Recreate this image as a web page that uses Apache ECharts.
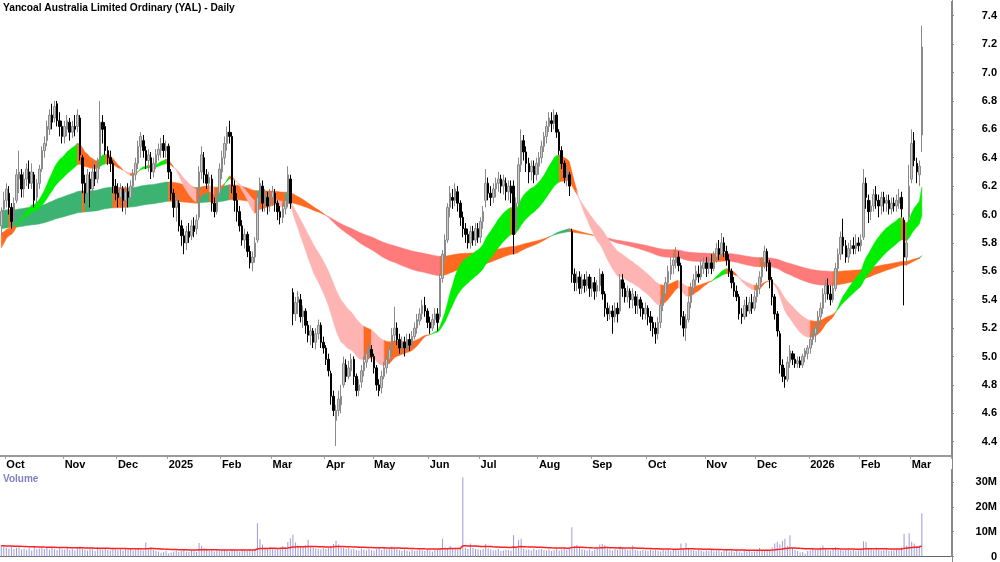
<!DOCTYPE html>
<html>
<head>
<meta charset="utf-8">
<script src="https://cdn.jsdelivr.net/npm/echarts@6/dist/echarts.min.js"></script>
<style>
  html, body { margin: 0; padding: 0; background: #fff; }
  #chart { width: 1000px; height: 562px; }
</style>
</head>
<body>
<div id="chart"></div>
<script>
// daily candles, [open, close, low, high]
const sep24 = [[5.92,6.02,5.85,6.05],[6.04,6.10,5.98,6.16]];
const oct24 = [[6.10,6.18,6.05,6.22],[6.15,6.05,6.00,6.20],[6.05,5.95,5.90,6.08],[5.97,6.08,5.93,6.12],[6.10,6.28,6.08,6.32],[6.25,6.30,6.15,6.45],[6.28,6.18,6.12,6.32],[6.18,6.25,6.12,6.30],[6.25,6.32,6.20,6.36],[6.30,6.22,6.18,6.38],[6.22,6.30,6.18,6.36],[6.28,6.10,6.05,6.30],[6.12,6.22,6.08,6.25],[6.22,6.32,6.18,6.35],[6.32,6.45,6.30,6.48],[6.45,6.50,6.40,6.55],[6.52,6.62,6.48,6.66],[6.60,6.70,6.56,6.74],[6.70,6.65,6.60,6.78],[6.68,6.76,6.65,6.80],[6.78,6.66,6.62,6.80],[6.66,6.62,6.55,6.72],[6.62,6.55,6.50,6.66]];
const nov24 = [[6.55,6.62,6.50,6.66],[6.60,6.66,6.55,6.70],[6.65,6.58,6.52,6.68],[6.58,6.62,6.54,6.66],[6.62,6.60,6.55,6.70],[6.62,6.70,6.58,6.74],[6.68,6.42,6.38,6.70],[6.40,6.22,6.15,6.42],[6.22,6.15,6.08,6.28],[6.15,6.28,6.10,6.32],[6.25,6.18,6.05,6.30],[6.18,6.30,6.15,6.38],[6.30,6.25,6.20,6.35],[6.25,6.33,6.22,6.40],[6.35,6.65,6.32,6.80],[6.65,6.60,6.50,6.70],[6.62,6.45,6.42,6.65],[6.45,6.40,6.35,6.48],[6.40,6.36,6.30,6.45],[6.36,6.20,6.15,6.38],[6.20,6.15,6.10,6.25]];
const dec24 = [[6.15,6.12,6.05,6.22],[6.12,6.18,6.05,6.22],[6.18,6.10,6.02,6.20],[6.10,6.16,6.00,6.20],[6.16,6.12,6.05,6.22],[6.12,6.20,6.08,6.24],[6.20,6.28,6.15,6.32],[6.28,6.36,6.24,6.40],[6.36,6.48,6.32,6.52],[6.48,6.55,6.40,6.58],[6.52,6.45,6.40,6.56],[6.45,6.38,6.32,6.48],[6.38,6.42,6.30,6.46],[6.40,6.30,6.25,6.44],[6.30,6.36,6.26,6.40],[6.36,6.42,6.32,6.46],[6.42,6.46,6.38,6.50],[6.45,6.50,6.40,6.54],[6.50,6.45,6.40,6.56],[6.45,6.48,6.40,6.52]];
const jan25 = [[6.48,6.30,6.25,6.50],[6.30,6.15,6.10,6.32],[6.15,6.05,5.98,6.18],[6.05,6.10,5.95,6.14],[6.08,5.92,5.88,6.10],[5.92,5.85,5.78,5.96],[5.85,5.80,5.72,5.90],[5.80,5.88,5.75,5.92],[5.88,5.84,5.80,5.94],[5.85,5.92,5.82,5.96],[5.92,5.88,5.84,5.98],[5.90,5.96,5.86,6.00],[5.98,6.30,5.96,6.34],[6.30,6.42,6.25,6.48],[6.40,6.28,6.22,6.44],[6.28,6.22,6.18,6.32],[6.22,6.26,6.18,6.30],[6.25,6.08,6.02,6.28],[6.08,6.02,5.98,6.12],[6.02,6.15,6.00,6.18],[6.15,6.32,6.12,6.36]];
const feb25 = [[6.30,6.40,6.25,6.45],[6.40,6.50,6.35,6.55],[6.50,6.58,6.45,6.62],[6.58,6.55,6.50,6.66],[6.55,6.20,6.15,6.58],[6.20,6.10,6.02,6.24],[6.10,6.02,5.95,6.15],[6.02,5.92,5.88,6.06],[5.92,5.82,5.78,5.96],[5.82,5.86,5.76,5.90],[5.86,5.74,5.70,5.88],[5.74,5.66,5.62,5.78],[5.66,5.70,5.60,5.74],[5.70,5.80,5.66,5.84],[5.82,6.12,5.80,6.16],[6.12,6.22,6.06,6.26],[6.20,6.08,6.02,6.24],[6.08,6.14,6.02,6.18],[6.12,6.06,6.00,6.16],[6.06,6.12,6.02,6.18]];
const mar25 = [[6.12,6.16,6.06,6.20],[6.15,6.08,6.02,6.18],[6.08,6.02,5.96,6.10],[6.02,5.98,5.93,6.06],[5.98,6.04,5.94,6.08],[6.04,6.10,6.00,6.14],[6.08,6.28,6.05,6.34],[6.25,6.08,6.04,6.28],[5.45,5.30,5.22,5.48],[5.30,5.38,5.25,5.42],[5.38,5.42,5.30,5.46],[5.40,5.28,5.24,5.44],[5.28,5.32,5.20,5.36],[5.32,5.22,5.16,5.34],[5.22,5.15,5.10,5.25],[5.15,5.18,5.08,5.22],[5.18,5.10,5.06,5.20],[5.10,5.16,5.05,5.20],[5.16,5.22,5.12,5.26],[5.22,5.10,5.06,5.24],[5.10,5.06,5.02,5.14]];
const apr25 = [[5.06,4.98,4.94,5.08],[4.98,4.90,4.86,5.02],[4.88,4.72,4.66,4.90],[4.72,4.62,4.58,4.76],[4.55,4.62,4.37,4.66],[4.62,4.70,4.58,4.76],[4.66,4.72,4.60,4.80],[4.80,4.95,4.78,5.00],[4.94,4.86,4.82,4.98],[4.86,4.92,4.84,4.97],[4.90,4.98,4.86,5.02],[4.98,4.86,4.80,5.00],[4.86,4.76,4.72,4.88],[4.76,4.80,4.72,4.84],[4.82,4.90,4.78,4.94],[4.90,4.96,4.86,5.00],[4.96,5.02,4.92,5.06],[5.02,5.06,4.98,5.10],[5.05,5.00,4.96,5.08]];
const may25 = [[5.00,4.92,4.88,5.02],[4.92,4.80,4.76,4.94],[4.80,4.76,4.72,4.84],[4.78,4.86,4.74,4.90],[4.86,4.92,4.84,4.96],[4.92,4.98,4.88,5.02],[4.98,5.05,4.95,5.08],[5.05,5.15,5.02,5.20],[5.15,5.20,5.10,5.35],[5.20,5.12,5.08,5.24],[5.12,5.06,5.02,5.16],[5.06,5.10,5.02,5.14],[5.10,5.06,5.00,5.14],[5.06,5.12,5.04,5.16],[5.12,5.08,5.04,5.16],[5.08,5.14,5.06,5.18],[5.14,5.20,5.12,5.24],[5.20,5.26,5.16,5.30],[5.25,5.30,5.22,5.34],[5.30,5.36,5.26,5.40],[5.36,5.32,5.28,5.42],[5.32,5.24,5.20,5.34]];
const jun25 = [[5.24,5.20,5.16,5.28],[5.20,5.26,5.18,5.30],[5.26,5.30,5.22,5.34],[5.30,5.24,5.18,5.34],[5.28,5.55,5.26,5.58],[5.55,5.72,5.52,5.75],[5.70,5.82,5.66,5.86],[5.82,6.05,5.80,6.08],[6.05,6.15,5.98,6.20],[6.12,6.10,6.04,6.18],[6.10,6.18,6.06,6.22],[6.16,6.08,6.02,6.20],[6.08,5.98,5.92,6.10],[5.98,5.90,5.84,6.02],[5.90,5.86,5.80,5.94],[5.86,5.80,5.76,5.90],[5.80,5.88,5.76,5.92],[5.88,5.82,5.78,5.92],[5.82,5.90,5.78,5.94],[5.90,5.84,5.80,5.94]];
const jul25 = [[5.84,5.95,5.80,5.98],[5.95,6.02,5.90,6.06],[6.10,6.22,6.05,6.32],[6.22,6.15,6.10,6.26],[6.15,6.12,6.06,6.20],[6.12,6.18,6.08,6.22],[6.18,6.22,6.12,6.26],[6.22,6.25,6.16,6.30],[6.25,6.20,6.15,6.28],[6.20,6.24,6.14,6.28],[6.22,6.16,6.10,6.26],[6.16,6.20,6.10,6.24],[6.20,6.15,6.08,6.24],[6.20,5.86,5.72,6.24],[5.90,6.08,5.86,6.12],[6.08,6.35,6.05,6.40],[6.35,6.52,6.30,6.60],[6.52,6.44,6.38,6.56],[6.44,6.36,6.30,6.48],[6.36,6.30,6.22,6.40],[6.30,6.34,6.24,6.38],[6.34,6.28,6.22,6.38],[6.28,6.36,6.24,6.40]];
const aug25 = [[6.34,6.40,6.28,6.44],[6.40,6.48,6.36,6.52],[6.48,6.55,6.44,6.58],[6.55,6.62,6.50,6.66],[6.62,6.68,6.58,6.72],[6.66,6.64,6.58,6.72],[6.64,6.70,6.60,6.74],[6.70,6.58,6.54,6.72],[6.58,6.45,6.42,6.60],[6.45,6.36,6.32,6.48],[6.36,6.26,6.22,6.38],[6.26,6.30,6.20,6.34],[6.28,6.20,6.13,6.30],[5.88,5.58,5.52,5.90],[5.58,5.52,5.46,5.62],[5.52,5.56,5.46,5.60],[5.56,5.48,5.44,5.60],[5.48,5.54,5.44,5.58],[5.54,5.50,5.45,5.58],[5.50,5.56,5.46,5.60],[5.56,5.48,5.42,5.58]];
const sep25 = [[5.48,5.52,5.42,5.56],[5.52,5.46,5.40,5.56],[5.46,5.50,5.42,5.54],[5.50,5.58,5.46,5.62],[5.58,5.44,5.40,5.60],[5.44,5.34,5.28,5.46],[5.34,5.30,5.25,5.38],[5.30,5.32,5.26,5.36],[5.32,5.28,5.16,5.36],[5.28,5.34,5.24,5.38],[5.34,5.30,5.24,5.38],[5.32,5.54,5.30,5.58],[5.54,5.48,5.42,5.58],[5.48,5.42,5.38,5.52],[5.42,5.46,5.38,5.50],[5.46,5.40,5.34,5.48],[5.40,5.44,5.34,5.48],[5.42,5.36,5.30,5.46],[5.36,5.40,5.30,5.44],[5.40,5.34,5.28,5.42],[5.34,5.30,5.26,5.38],[5.30,5.34,5.26,5.38]];
const oct25 = [[5.34,5.28,5.22,5.36],[5.28,5.24,5.18,5.32],[5.24,5.20,5.14,5.28],[5.20,5.16,5.09,5.24],[5.16,5.24,5.12,5.28],[5.24,5.36,5.20,5.40],[5.36,5.44,5.32,5.48],[5.44,5.52,5.40,5.56],[5.52,5.60,5.48,5.64],[5.58,5.64,5.54,5.70],[5.64,5.68,5.58,5.72],[5.66,5.70,5.62,5.77],[5.70,5.64,5.60,5.74],[5.64,5.28,5.22,5.66],[5.28,5.20,5.14,5.32],[5.20,5.26,5.11,5.30],[5.26,5.38,5.24,5.42],[5.38,5.48,5.34,5.52],[5.48,5.54,5.44,5.58],[5.54,5.60,5.50,5.64],[5.58,5.56,5.52,5.64],[5.56,5.64,5.54,5.68],[5.62,5.66,5.58,5.70]];
const nov25 = [[5.66,5.62,5.56,5.70],[5.62,5.66,5.58,5.70],[5.66,5.62,5.58,5.72],[5.62,5.70,5.60,5.74],[5.70,5.76,5.66,5.80],[5.76,5.72,5.68,5.82],[5.72,5.80,5.70,5.87],[5.80,5.74,5.70,5.84],[5.74,5.68,5.64,5.78],[5.68,5.60,5.56,5.72],[5.60,5.52,5.48,5.62],[5.52,5.46,5.42,5.56],[5.46,5.42,5.39,5.50],[5.42,5.30,5.26,5.44],[5.30,5.28,5.23,5.34],[5.28,5.36,5.26,5.40],[5.36,5.32,5.28,5.42],[5.32,5.38,5.30,5.42],[5.38,5.34,5.30,5.44],[5.34,5.42,5.32,5.46]];
const dec25 = [[5.42,5.48,5.38,5.52],[5.48,5.56,5.44,5.60],[5.56,5.66,5.52,5.70],[5.66,5.74,5.62,5.78],[5.74,5.66,5.60,5.76],[5.66,5.54,5.48,5.68],[5.54,5.42,5.36,5.56],[5.42,5.30,5.26,5.44],[5.30,5.18,5.14,5.32],[5.16,4.94,4.88,5.18],[4.94,4.86,4.82,4.98],[4.86,4.84,4.78,4.92],[4.84,4.96,4.82,5.00],[4.96,5.04,4.92,5.08],[5.02,4.98,4.94,5.04],[4.98,4.95,4.92,5.02],[4.95,4.97,4.92,5.00],[4.97,4.94,4.92,5.00],[4.94,5.00,4.92,5.02],[5.00,5.04,4.96,5.06],[5.02,5.06,4.98,5.08]];
const jan26 = [[5.06,5.12,5.02,5.16],[5.12,5.18,5.08,5.20],[5.16,5.20,5.10,5.24],[5.20,5.28,5.16,5.32],[5.28,5.34,5.22,5.38],[5.34,5.44,5.30,5.48],[5.44,5.50,5.38,5.54],[5.50,5.44,5.40,5.55],[5.44,5.40,5.36,5.50],[5.40,5.48,5.38,5.52],[5.48,5.62,5.46,5.66],[5.62,5.72,5.58,5.76],[5.72,5.84,5.68,5.88],[5.84,5.78,5.72,5.97],[5.78,5.70,5.66,5.82],[5.70,5.76,5.66,5.80],[5.76,5.78,5.72,5.82],[5.78,5.76,5.72,5.84],[5.76,5.80,5.72,5.86],[5.80,5.78,5.74,5.84]];
const feb26 = [[5.78,5.82,5.74,5.86],[5.84,6.22,5.82,6.32],[6.22,6.12,6.04,6.26],[6.10,6.02,5.94,6.14],[6.02,6.06,5.96,6.10],[6.06,6.14,6.02,6.18],[6.14,6.10,6.04,6.20],[6.10,6.06,5.98,6.14],[6.06,6.12,6.00,6.16],[6.12,6.08,6.02,6.16],[6.08,6.10,6.02,6.14],[6.10,6.04,6.00,6.14],[6.04,6.08,6.00,6.12],[6.08,6.06,6.02,6.12],[6.06,6.10,6.02,6.14],[6.08,6.12,6.04,6.18],[6.12,6.04,5.98,6.16],[5.96,5.70,5.36,5.98],[5.70,5.80,5.64,5.84],[5.98,6.20,5.95,6.35]];
const mar26 = [[6.25,6.50,6.22,6.60],[6.52,6.38,6.34,6.58],[6.36,6.30,6.22,6.40],[6.28,6.34,6.20,6.38],[6.56,7.18,6.44,7.33]];

// daily volume, millions
const volSep24 = [4.5,4.0];
const volOct24 = [3.6,3.2,4.0,3.0,3.5,4.2,2.8,3.1,2.6,3.3,2.4,3.8,2.9,3.2,3.6,3.0,3.4,2.7,3.9,3.1,2.6,3.3,2.9];
const volNov24 = [2.8,3.4,2.6,3.0,2.5,3.6,4.0,3.1,2.7,2.4,3.2,2.9,2.2,3.8,3.0,2.8,3.3,2.6,2.4,3.5,2.9];
const volDec24 = [2.6,2.9,2.4,3.1,2.7,3.0,2.5,2.8,3.2,2.6,2.4,5.6,3.3,3.8,2.7,2.2,2.0,1.5,1.8,2.2];
const volJan25 = [1.2,1.6,2.0,2.4,1.8,2.2,2.6,2.0,1.9,2.3,2.1,1.8,5.4,4.2,3.0,2.6,2.2,2.5,2.0,2.4,2.1];
const volFeb25 = [2.2,2.8,2.4,2.0,3.0,2.6,2.3,2.0,2.8,2.5,2.2,2.7,2.4,3.2,13.4,7.0,4.8,3.6,3.2,3.8];
const volMar25 = [3.4,3.2,3.0,3.6,4.2,3.8,5.8,7.4,8.8,5.6,4.4,4.0,3.8,4.6,6.8,4.2,3.6,3.2,3.0,2.8,3.4];
const volApr25 = [3.0,3.4,4.2,5.0,6.4,4.8,4.2,3.6,3.0,3.4,2.8,3.0,2.6,2.4,3.2,2.8,2.5,3.0,2.6];
const volMay25 = [2.4,3.0,3.4,2.6,3.6,2.8,3.2,4.0,3.4,3.0,2.6,2.2,2.8,2.4,2.0,2.6,2.2,2.4,2.8,2.5,2.2,2.6];
const volJun25 = [2.4,2.0,2.6,2.8,3.4,7.2,3.6,3.0,4.2,3.4,3.0,2.8,3.2,32.0,3.6,3.0,5.2,3.4,3.0,2.8];
const volJul25 = [2.6,3.0,5.0,3.2,2.8,2.4,2.6,3.0,2.2,2.4,2.8,2.6,2.4,8.6,3.4,6.6,7.2,3.0,2.6,2.8,2.4,3.2,2.6];
const volAug25 = [2.8,3.0,2.6,2.4,2.8,2.2,2.6,3.0,2.4,2.8,3.2,2.6,3.0,11.8,4.2,4.6,3.4,3.0,2.6,2.4,2.8];
const volSep25 = [2.2,2.6,3.0,4.8,5.0,4.6,3.2,2.8,2.4,3.0,2.6,4.0,3.4,3.0,2.6,2.8,4.4,2.6,2.4,2.2,2.6,2.4];
const volOct25 = [2.2,2.8,2.4,2.6,2.2,2.0,2.6,2.4,2.8,2.2,2.6,3.0,2.4,5.2,3.0,5.4,3.2,2.6,2.4,2.2,2.6,2.4,2.0];
const volNov25 = [2.4,2.2,2.6,2.0,2.2,2.4,1.8,2.2,2.6,2.0,2.2,1.8,2.4,2.0,1.6,2.2,2.0,2.4,1.8,2.0];
const volDec25 = [2.2,3.4,2.6,2.4,2.8,2.6,3.6,5.2,6.0,4.8,6.4,7.2,4.2,8.6,3.4,2.6,2.2,1.6,1.8,1.2,2.2];
const volJan26 = [2.4,3.0,2.6,2.8,3.6,4.4,3.2,2.6,2.4,3.0,3.8,2.8,2.6,2.4,2.6,2.8,2.4,2.6,2.2,2.4];
const volFeb26 = [2.6,6.2,5.8,3.4,3.0,2.6,3.6,2.8,2.4,2.6,3.0,2.2,2.4,2.6,3.0,3.2,3.6,9.2,4.4,9.4];
const volMar26 = [6.0,5.2,4.2,4.4,17.4];

const firstDay = '2024-09-27';
const holidays = ['2024-12-25','2024-12-26','2025-01-01','2025-01-27','2025-04-18','2025-04-21',
  '2025-04-25','2025-06-09','2025-12-25','2025-12-26','2026-01-01','2026-01-26'];
const monthNames = ['Jan','Feb','Mar','Apr','May','Jun','Jul','Aug','Sep','Oct','Nov','Dec'];
const emptySlots = 11;

const priceTicks = [4.4,4.6,4.8,5.0,5.2,5.4,5.6,5.8,6.0,6.2,6.4,6.6,6.8,7.0,7.2,7.4];
const volumeTicks = [0,10,20,30];

// ribbon settings: [fast, slow] EMA periods and starting values
const shortPeriods = [21, 40];
const shortSeed = [5.74, 5.86];
const longPeriods = [150, 250];
const longSeed = [6.03, 5.90];
const volPeriod = 50;
const volSeed = 4.3;

const candles = [].concat(sep24, oct24, nov24, dec24, jan25, feb25, mar25, apr25, may25, jun25,
  jul25, aug25, sep25, oct25, nov25, dec25, jan26, feb26, mar26);
const volumes = [].concat(volSep24, volOct24, volNov24, volDec24, volJan25, volFeb25, volMar25,
  volApr25, volMay25, volJun25, volJul25, volAug25, volSep25, volOct25, volNov25, volDec25,
  volJan26, volFeb26, volMar26);

// trading days
const dates = [];
let d = new Date(firstDay + 'T00:00:00Z');
while (dates.length < candles.length) {
  const key = d.toISOString().slice(0, 10);
  const wd = d.getUTCDay();
  if (wd !== 0 && wd !== 6 && holidays.indexOf(key) < 0) dates.push(key);
  d = new Date(d.getTime() + 86400000);
}
const cats = dates.concat(new Array(emptySlots).fill(''));
const monthLabel = cats.map((k, i) => {
  if (!k || i === 0) return '';
  if (k.slice(5, 7) === cats[i - 1].slice(5, 7)) return '';
  const m = +k.slice(5, 7);
  return m === 1 ? k.slice(0, 4) : monthNames[m - 1];
});
const isMonthStart = (i) => monthLabel[i] !== '';

function ema(vals, period, seed) {
  const k = 2 / (period + 1);
  let prev = seed;
  return vals.map(v => (prev = prev + k * (v - prev)));
}

const closes = candles.map(c => c[1]);
const shortFast = ema(closes, shortPeriods[0], shortSeed[0]);
const shortSlow = ema(closes, shortPeriods[1], shortSeed[1]);
const longFast = ema(closes, longPeriods[0], longSeed[0]);
const longSlow = ema(closes, longPeriods[1], longSeed[1]);
const volAvg = ema(volumes, volPeriod, volSeed);

// colour state of each day: fast above slow and rising = up, below and falling = down
function states(fast, slow, seed) {
  return fast.map((f, i) => {
    const prev = i ? fast[i - 1] : seed;
    const rising = f >= prev;
    if (f > slow[i]) return rising ? 'up' : 'mix';
    return rising ? 'mix' : 'down';
  });
}

// group consecutive segments of one colour: [firstPoint, lastPoint, state]
function runs(st) {
  const out = [];
  let a = 1;
  for (let s = 2; s <= st.length; s++) {
    if (s === st.length || st[s] !== st[a]) { out.push([a - 1, s - 1, st[a]]); a = s; }
  }
  return out;
}

function ribbon(fast, slow, colors, seed) {
  const parts = runs(states(fast, slow, seed));
  return {
    type: 'custom',
    xAxisIndex: 0, yAxisIndex: 0,
    silent: true,
    clip: true,
    z: 1,
    data: parts.map(p => [p[0], fast[p[0]], p[1]]),
    encode: { x: 0, y: 1 },
    renderItem: function (params, api) {
      const p = parts[params.dataIndex];
      const pts = [];
      for (let k = p[0]; k <= p[1]; k++) pts.push(api.coord([k, fast[k]]));
      for (let k = p[1]; k >= p[0]; k--) pts.push(api.coord([k, slow[k]]));
      const c = colors[p[2]];
      return { type: 'polygon', shape: { points: pts }, style: { fill: c, stroke: c, lineWidth: 0.5 } };
    }
  };
}

const font = 'Liberation Sans, Arial, sans-serif';
const chart = echarts.init(document.getElementById('chart'));

chart.setOption({
  animation: false,
  backgroundColor: '#fff',
  title: [
    { text: 'Yancoal Australia Limited Ordinary (YAL) - Daily', left: 3, top: 3, padding: 0,
      textStyle: { fontSize: 10.2, fontWeight: 'bold', color: '#000', fontFamily: font } },
    { text: 'Volume', left: 3, top: 474, padding: 0,
      textStyle: { fontSize: 10, fontWeight: 'bold', color: '#8080c4', fontFamily: font } }
  ],
  grid: [
    { left: 0, right: 48, top: 1.5, height: 454.4 },
    { left: 0, right: 48, top: 469.5, height: 88.8 }
  ],
  xAxis: [
    { type: 'category', gridIndex: 0, data: cats, boundaryGap: true,
      axisLine: { show: true, lineStyle: { color: '#9a9a9a', width: 2 } },
      axisTick: { show: true, interval: isMonthStart, length: 3, lineStyle: { color: '#9a9a9a' } },
      axisLabel: { interval: isMonthStart, formatter: (v, i) => monthLabel[i], align: 'left',
        margin: 4, fontSize: 11, fontWeight: 'bold', color: '#000', fontFamily: font },
      splitLine: { show: false } },
    { type: 'category', gridIndex: 1, data: cats, boundaryGap: true, position: 'top',
      axisLine: { show: true, lineStyle: { color: '#666', width: 1 } },
      axisTick: { show: false }, axisLabel: { show: false }, splitLine: { show: false } }
  ],
  yAxis: [
    { type: 'value', gridIndex: 0, position: 'right', min: 4.3, max: 7.5,
      axisLine: { show: true, lineStyle: { color: '#888' } },
      axisTick: { show: true, customValues: priceTicks, length: 3, lineStyle: { color: '#888' } },
      axisLabel: { customValues: priceTicks, formatter: v => v.toFixed(1), align: 'right', margin: 46,
        fontSize: 11, fontWeight: 'bold', color: '#000', fontFamily: font },
      splitLine: { show: false } },
    { type: 'value', gridIndex: 1, position: 'right', min: 0, max: 35.1,
      axisLine: { show: true, lineStyle: { color: '#888' } },
      axisTick: { show: true, customValues: volumeTicks, length: 3, lineStyle: { color: '#888' } },
      axisLabel: { customValues: volumeTicks, formatter: v => (v === 0 ? '0' : v + 'M'), align: 'right',
        margin: 46, fontSize: 11, fontWeight: 'bold', color: '#000', fontFamily: font },
      splitLine: { show: false } }
  ],
  graphic: [
    { type: 'line', shape: { x1: 952.5, y1: 0, x2: 952.5, y2: 562 }, style: { stroke: '#888', lineWidth: 1 }, z: 10 }
  ],
  series: [
    ribbon(longFast, longSlow, { up: '#3cb371', down: '#ff7b7b', mix: '#ff6a20' }, longSeed[0]),
    ribbon(shortFast, shortSlow, { up: '#00ee00', down: '#ffb4b4', mix: '#ff6a20' }, shortSeed[0]),
    { type: 'candlestick', xAxisIndex: 0, yAxisIndex: 0, data: candles, barWidth: 2, z: 3,
      itemStyle: { color: '#c8c8c8', borderColor: '#8a8a8a', color0: '#000', borderColor0: '#000', borderWidth: 1 } },
    { type: 'bar', xAxisIndex: 1, yAxisIndex: 1, data: volumes, barWidth: 1,
      itemStyle: { color: '#9b9bd8' } },
    { type: 'line', xAxisIndex: 1, yAxisIndex: 1, data: volAvg, symbol: 'none',
      lineStyle: { color: '#ff2020', width: 1.5 } }
  ]
});
</script>
</body>
</html>
